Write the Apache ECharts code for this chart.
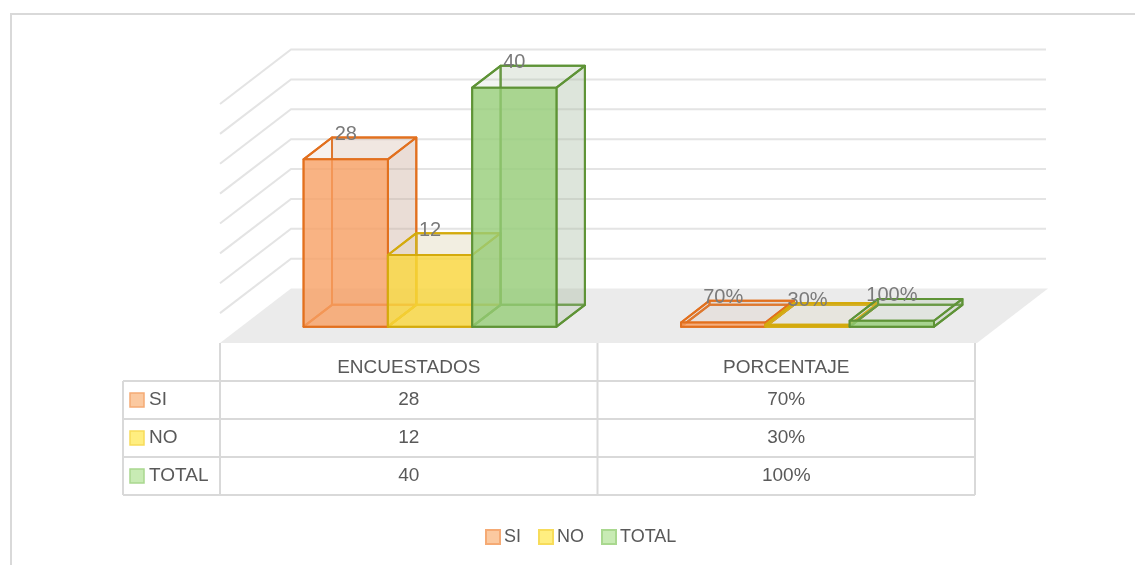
<!DOCTYPE html>
<html>
<head>
<meta charset="utf-8">
<style>
  html, body { margin: 0; padding: 0; background: #fff; }
  #chart { width: 1135px; height: 565px; }
</style>
<script src="https://cdn.jsdelivr.net/npm/echarts@6/dist/echarts.min.js"></script>
</head>
<body>
<div id="chart"></div>
<script>
// Data
var categories = ['ENCUESTADOS', 'PORCENTAJE'];
var percentCategory = [false, true];
var seriesNames = ['SI', 'NO', 'TOTAL'];
var siValues = [28, 0.7];
var noValues = [12, 0.3];
var totalValues = [40, 1];
var valueMax = 40;
var valueStep = 5;

// Look
var FONT = 'Liberation Sans, Arial, sans-serif';
var DX = 71, DY = 54.5;            // full floor depth, in pixels
var Z_FRONT = 0.3, Z_BACK = 0.7;   // bar depth inside the floor
var BAR_W = 0.2233;                // bar width as part of the band
var GAP = (1 - 3 * BAR_W) / 2;
var FILL = ['rgba(248,160,100,0.8)', 'rgba(250,215,60,0.8)', 'rgba(150,205,120,0.8)'];
var SIDE = ['rgba(200,170,150,0.28)', 'rgba(210,195,150,0.28)', 'rgba(170,185,160,0.28)'];
var TOP = ['rgba(200,170,150,0.15)', 'rgba(210,195,150,0.15)', 'rgba(170,185,160,0.15)'];
var EDGE = ['#E2701E', '#D4AA0C', '#5E9336'];
var KEY_FILL = ['#FBC9A0', '#FFEE80', '#C8EBB4'];
var KEY_EDGE = ['#F5AA74', '#F7DC5A', '#A9D88F'];

var GRID = { left: 220, right: 160, top: 104, bottom: 222 };

function fmt(cat, v) {
    return percentCategory[cat] ? Math.round(v * 100) + '%' : String(v);
}

// back wall, side wall lines and floor
var renderWalls = function (params, api) {
    var cs = params.coordSys;
    var left = cs.x, right = cs.x + cs.width;
    var children = [];
    for (var t = valueStep; t <= valueMax; t += valueStep) {
        var y = api.coord([0, t])[1];
        children.push({
            type: 'polyline',
            shape: { points: [[left, y], [left + DX, y - DY], [right + DX, y - DY]] },
            style: { fill: null, stroke: '#e4e4e4', lineWidth: 2 }
        });
    }
    var y0 = api.coord([0, 0])[1];
    children.push({
        type: 'polygon',
        shape: { points: [[left, y0], [right + 2, y0], [right + 2 + DX, y0 - DY], [left + DX, y0 - DY]] },
        style: { fill: '#ebebeb' }
    });
    return { type: 'group', children: children };
};

var makeBarRenderer = function (k) {
    return function (params, api) {
        var c = api.value(0), v = api.value(1);
        var base = api.coord([c, 0]);
        var top = api.coord([c, v]);
        var band = api.size([1, 0])[0];
        var x0 = base[0] - band / 2 + band * (GAP + k * BAR_W);
        var x1 = x0 + band * BAR_W;
        var y0 = base[1], y1 = top[1];
        var P = function (x, y, z) { return [x + z * DX, y - z * DY]; };
        var fbl = P(x0, y0, Z_FRONT), fbr = P(x1, y0, Z_FRONT), ftr = P(x1, y1, Z_FRONT), ftl = P(x0, y1, Z_FRONT);
        var bbl = P(x0, y0, Z_BACK), bbr = P(x1, y0, Z_BACK), btr = P(x1, y1, Z_BACK), btl = P(x0, y1, Z_BACK);
        var face = function (pts, fill) {
            return {
                type: 'polygon',
                shape: { points: pts },
                style: { fill: fill, stroke: EDGE[k], lineWidth: 2, lineJoin: 'round' }
            };
        };
        return {
            type: 'group',
            children: [
                face([bbl, bbr, btr, btl], TOP[k]),
                face([fbl, bbl, btl, ftl], 'rgba(0,0,0,0)'),
                face([fbl, fbr, bbr, bbl], 'rgba(0,0,0,0)'),
                face([fbr, bbr, btr, ftr], SIDE[k]),
                face([ftl, ftr, btr, btl], TOP[k]),
                face([fbl, fbr, ftr, ftl], FILL[k]),
                {
                    type: 'text',
                    z2: 10,
                    style: {
                        x: (fbl[0] + fbr[0]) / 2, y: btl[1] - 3,
                        text: fmt(c, v),
                        fill: '#7a7a7a', font: '20px ' + FONT,
                        align: 'center', verticalAlign: 'middle'
                    }
                }
            ]
        };
    };
};

var barData = [siValues, noValues, totalValues];
var series = [{
    type: 'custom',
    name: 'walls',
    renderItem: renderWalls,
    data: [[0, 0]],
    silent: true,
    z: 1
}];
barData.forEach(function (vals, k) {
    series.push({
        type: 'custom',
        name: seriesNames[k],
        renderItem: makeBarRenderer(k),
        data: vals.map(function (v, i) { return [i, v]; }),
        itemStyle: { color: KEY_FILL[k], borderColor: KEY_EDGE[k], borderWidth: 1.5 },
        z: 2 + k
    });
});

// data table under the floor
var buildTable = function () {
    var g = [];
    var lineStyle = { stroke: '#d9d9d9', lineWidth: 2 };
    var left = GRID.left, right = 1135 - GRID.right;
    var band = (right - left) / categories.length;
    var top = 565 - GRID.bottom;
    var headH = 38, rowH = 38, keyLeft = 123;
    var bottom = top + headH + rowH * seriesNames.length;
    for (var i = 0; i <= categories.length; i++) {
        var x = left + i * band;
        g.push({ type: 'line', shape: { x1: x, y1: top, x2: x, y2: bottom }, style: lineStyle });
    }
    g.push({ type: 'line', shape: { x1: keyLeft, y1: top + headH, x2: keyLeft, y2: bottom }, style: lineStyle });
    for (var r = 0; r <= seriesNames.length; r++) {
        var y = top + headH + r * rowH;
        g.push({ type: 'line', shape: { x1: keyLeft, y1: y, x2: right, y2: y }, style: lineStyle });
    }
    categories.forEach(function (name, i) {
        g.push({
            type: 'text',
            style: { x: left + (i + 0.5) * band, y: top + 25, text: name, fill: '#595959',
                     font: '19px ' + FONT, align: 'center', verticalAlign: 'middle' }
        });
    });
    seriesNames.forEach(function (name, r) {
        var cy = top + headH + (r + 0.5) * rowH;
        g.push({
            type: 'rect',
            shape: { x: 130, y: cy - 7, width: 14, height: 14 },
            style: { fill: KEY_FILL[r], stroke: KEY_EDGE[r], lineWidth: 1.5 }
        });
        g.push({
            type: 'text',
            style: { x: 149, y: cy, text: name, fill: '#595959', font: '19px ' + FONT,
                     align: 'left', verticalAlign: 'middle' }
        });
        barData[r].forEach(function (v, i) {
            g.push({
                type: 'text',
                style: { x: left + (i + 0.5) * band, y: cy, text: fmt(i, v), fill: '#595959',
                         font: '19px ' + FONT, align: 'center', verticalAlign: 'middle' }
            });
        });
    });
    // outer chart frame
    g.push({
        type: 'rect',
        shape: { x: 11, y: 14, width: 1300, height: 700 },
        style: { fill: null, stroke: '#d9d9d9', lineWidth: 2 }
    });
    return g;
};

var chart = echarts.init(document.getElementById('chart'), null, { renderer: 'canvas' });
chart.setOption({
    animation: false,
    backgroundColor: '#fff',
    grid: GRID,
    xAxis: { type: 'category', data: categories, show: false },
    yAxis: { type: 'value', min: 0, max: valueMax, interval: valueStep, show: false },
    legend: {
        data: seriesNames,
        left: 480,
        top: 523,
        icon: 'rect',
        itemWidth: 14,
        itemHeight: 14,
        itemGap: 17,
        textStyle: { color: '#595959', fontSize: 18, fontFamily: FONT, padding: [0, 0, 0, -1] }
    },
    graphic: buildTable(),
    series: series
});
window.addEventListener('resize', function () { chart.resize(); });
</script>
</body>
</html>
